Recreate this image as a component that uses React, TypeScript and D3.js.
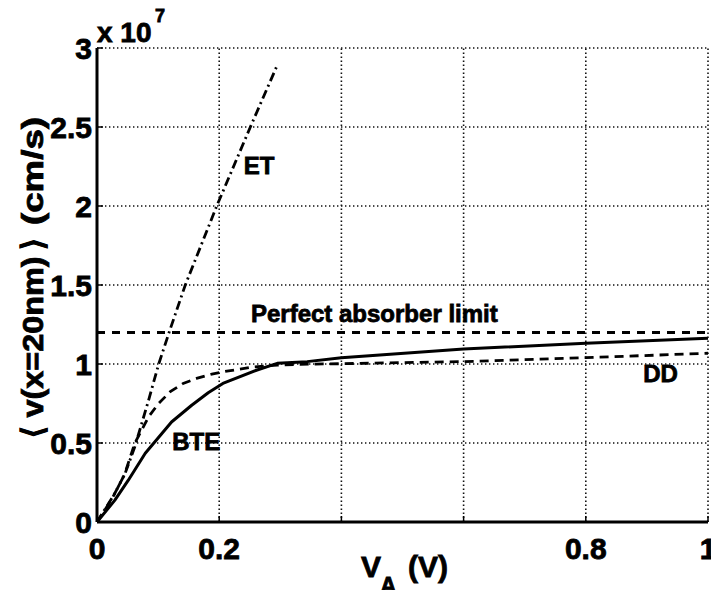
import React from 'react'
import { scaleLinear, line } from 'd3'

// values in units of 1e7 cm/s, x = applied bias V_A (V)
const etX = [0, 0.029, 0.046, 0.062, 0.0845, 0.101, 0.118, 0.1445, 0.196, 0.251, 0.296]
const etY = [0, 0.18, 0.308, 0.477, 0.772, 1.0, 1.2, 1.5, 2.0, 2.5, 2.9]

const bteX = [0, 0.029, 0.051, 0.079, 0.122, 0.155, 0.182, 0.206, 0.262, 0.295, 0.344, 0.4, 0.6, 0.8, 1.0]
const bteY = [0, 0.137, 0.263, 0.435, 0.633, 0.739, 0.818, 0.877, 0.962, 1.004, 1.015, 1.04, 1.095, 1.131, 1.163]

const ddX = [0, 0.025, 0.045, 0.062, 0.0845, 0.101, 0.12, 0.141, 0.163, 0.188, 0.207, 0.251, 0.295, 0.333, 0.4, 0.6, 0.8, 1.0]
const ddY = [0, 0.15, 0.3, 0.5, 0.666, 0.751, 0.825, 0.877, 0.909, 0.936, 0.951, 0.979, 0.993, 0.998, 1.002, 1.015, 1.04, 1.068]

const absorberLimit = 1.2

const xGrid = [0.2, 0.4, 0.6, 0.8, 1]
const xTickLabels = [0, 0.2, 0.8, 1]
const yTicks = [0, 0.5, 1, 1.5, 2, 2.5, 3]

const labels = [
  { text: 'ET', x: 0.24, y: 2.2 },
  { text: 'BTE', x: 0.123, y: 0.455 },
  { text: 'DD', x: 0.894, y: 0.885 },
  { text: 'Perfect absorber limit', x: 0.252, y: 1.265 },
]

const App = () => {
  const width = 711
  const height = 590
  const left = 97
  const right = 708
  const top = 48
  const bottom = 522

  const xScale = scaleLinear().domain([0, 1]).range([left, right])
  const yScale = scaleLinear().domain([0, 3]).range([bottom, top])

  const lineGen = line<[number, number]>()
    .x(d => xScale(d[0]))
    .y(d => yScale(d[1]))

  const zip = (xs: number[], ys: number[]) => xs.map((x, i) => [x, ys[i]] as [number, number])

  const helv = '"Liberation Sans", Arial, Helvetica, sans-serif'
  const textStyle = { fontFamily: helv, fontWeight: 'bold' as const, stroke: '#000', strokeWidth: 0.8 }

  return (
    <div style={{ position: 'absolute', left: 0, top: 0 }}>
      <svg width={width} height={height} style={{ display: 'block', background: '#fff' }}>
        {/* grid */}
        {xGrid.map(v => (
          <line key={'gx' + v} x1={xScale(v)} x2={xScale(v)} y1={bottom} y2={top}
            stroke='#111' strokeWidth={1.6} strokeDasharray='1.4 2.6' />
        ))}
        {yTicks.filter(v => v > 0).map(v => (
          <line key={'gy' + v} x1={left} x2={right} y1={yScale(v)} y2={yScale(v)}
            stroke='#111' strokeWidth={1.6} strokeDasharray='1.4 2.6' />
        ))}

        {/* ticks */}
        {xGrid.map(v => (
          <line key={'tx' + v} x1={xScale(v)} x2={xScale(v)} y1={bottom} y2={bottom - 6} stroke='#000' strokeWidth={1.5} />
        ))}
        {yTicks.map(v => (
          <line key={'ty' + v} x1={left} x2={left + 6} y1={yScale(v)} y2={yScale(v)} stroke='#000' strokeWidth={1.5} />
        ))}

        {/* axes */}
        <line x1={left} x2={left} y1={top} y2={bottom} stroke='#000' strokeWidth={3} />
        <line x1={left} x2={right} y1={bottom} y2={bottom} stroke='#000' strokeWidth={3} />

        {/* series */}
        <line x1={xScale(0)} x2={xScale(1)} y1={yScale(absorberLimit)} y2={yScale(absorberLimit)}
          stroke='#000' strokeWidth={3} strokeDasharray='8 7' />
        <path d={lineGen(zip(ddX, ddY)) || ''} fill='none' stroke='#000' strokeWidth={2.8} strokeDasharray='9 6' />
        <path d={lineGen(zip(etX, etY)) || ''} fill='none' stroke='#000' strokeWidth={2.8} strokeDasharray='9 4 2 4' />
        <path d={lineGen(zip(bteX, bteY)) || ''} fill='none' stroke='#000' strokeWidth={3} strokeLinejoin='round' />

        {/* tick labels */}
        {yTicks.map(v => (
          <text key={'ly' + v} x={left - 5} y={yScale(v) + 11} textAnchor='end' fontSize={30} style={textStyle}>{v}</text>
        ))}
        {xTickLabels.map(v => (
          <text key={'lx' + v} x={xScale(v)} y={559} textAnchor='middle' fontSize={30} style={textStyle}>{v}</text>
        ))}

        <text x={97} y={42} fontSize={28} style={textStyle}>x 10</text>
        <text x={155} y={22} fontSize={18} style={textStyle}>7</text>

        {/* axis labels */}
        <text x={361} y={577} fontSize={30} style={textStyle}>V</text>
        <text x={380} y={594} fontSize={23} style={textStyle}>A</text>
        <text x={408} y={577} fontSize={30} style={textStyle}>(V)</text>

        <g transform='translate(43,0)' style={textStyle} fontSize={30}>
          <text transform='translate(0,432) rotate(-90)' textAnchor='middle'>⟨</text>
          <text transform='translate(0,337) rotate(-90)' textAnchor='middle' textLength={161} lengthAdjust='spacingAndGlyphs'>v(x=20nm)</text>
          <text transform='translate(0,244) rotate(-90)' textAnchor='middle'>⟩</text>
          <text transform='translate(0,171) rotate(-90)' textAnchor='middle' textLength={108} lengthAdjust='spacingAndGlyphs'>(cm/s)</text>
        </g>

        {/* curve labels */}
        {labels.map(l => (
          <text key={l.text} x={xScale(l.x)} y={yScale(l.y)} fontSize={24} style={textStyle}>{l.text}</text>
        ))}
      </svg>
    </div>
  )
}

export default App
